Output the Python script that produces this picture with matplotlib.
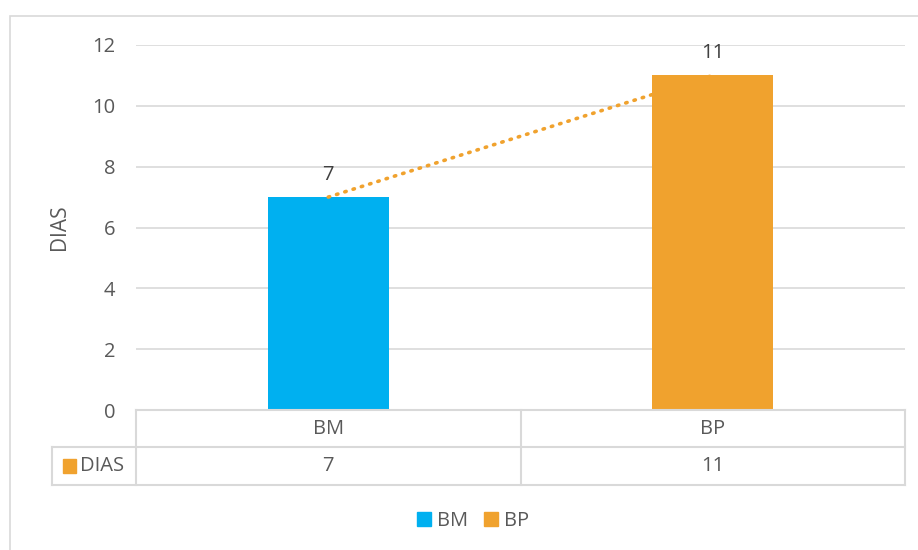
import matplotlib.pyplot as plt
from matplotlib.patches import Rectangle
from matplotlib.lines import Line2D
import matplotlib.transforms as mtransforms

# donnees du graphique
categories = ["BM", "BP"]
dias = [7, 11]
couleurs = ["#00B0F0", "#F0A22E"]
serie = "DIAS"
yticks = [0, 2, 4, 6, 8, 10, 12]

texte = "#595959"
grille = "#D9D9D9"
plt.rcParams['font.family'] = ['Open Sans', 'DejaVu Sans']

W, H = 918, 550
fig = plt.figure(figsize=(W / 100, H / 100), dpi=100)

def fx(px):
    return px / W

def fy(py):
    return 1 - py / H

# cadre du graphique
fig.patches.append(Rectangle((fx(10), fy(600)), 1.0, fy(16) - fy(600),
                             transform=fig.transFigure, fill=False,
                             edgecolor=grille, lw=1.2, clip_on=False))

x0, x1, ytop, ybot = 136, 905, 45, 410
ax = fig.add_axes([fx(x0), fy(ybot), fx(x1) - fx(x0), fy(ytop) - fy(ybot)])
ax.set_xlim(-0.5, 1.5)
ax.set_ylim(0, 12)
ax.set_yticks(yticks)
ax.set_xticks([])
ax.yaxis.grid(True, color=grille, lw=1.2)
ax.set_axisbelow(True)
for s in ax.spines.values():
    s.set_visible(False)
ax.tick_params(axis='y', length=0, pad=15, labelsize=14.5, labelcolor=texte)
ax.set_ylabel("DIAS", fontsize=15, color=texte, labelpad=16)

xs = list(range(len(categories)))
ax.bar(xs, dias, width=0.315, color=couleurs, zorder=2)
for x, v in zip(xs, dias):
    ax.annotate(str(v), (x, v), xytext=(0, 9), textcoords='offset points',
                ha='center', va='bottom', fontsize=14.5, color="#404040")

# courbe de tendance pointillee
ax.plot(xs, dias, color=couleurs[1], lw=2.6, ls=(0, (0.4, 2.0)),
        dash_capstyle='round', zorder=3)

# table de donnees sous le graphique
yh, yd, yb = 410, 447, 485
xl, xm = 52, 521
lignes = [
    ((x0, x1), (yh, yh)),
    ((xl, x1), (yd, yd)),
    ((xl, x1), (yb, yb)),
    ((x0, x0), (yh, yb)),
    ((xm, xm), (yh, yb)),
    ((x1, x1), (yh, yb)),
    ((xl, xl), (yd, yb)),
]
for (ax_, bx_), (ay_, by_) in lignes:
    fig.add_artist(Line2D([fx(ax_), fx(bx_)], [fy(ay_), fy(by_)],
                          transform=fig.transFigure, color=grille, lw=1.5))

trans = mtransforms.blended_transform_factory(ax.transData, fig.transFigure)
for x, c, v in zip(xs, categories, dias):
    fig.text(x, fy((yh + yd) / 2), c, transform=trans, ha='center',
             va='center', fontsize=14.5, color=texte)
    fig.text(x, fy((yd + yb) / 2), str(v), transform=trans, ha='center',
             va='center', fontsize=14.5, color=texte)

fig.patches.append(Rectangle((fx(63), fy(473)), fx(13), fy(459) - fy(473),
                             transform=fig.transFigure, color=couleurs[1]))
fig.text(fx(80), fy(466), serie, ha='left', va='center', fontsize=14.5, color=texte)

# legende
poignees = [Rectangle((0, 0), 1, 1, color=c) for c in couleurs]
fig.legend(poignees, categories, loc='center', bbox_to_anchor=(fx(473), fy(521)),
           ncol=2, frameon=False, fontsize=14.5, labelcolor=texte,
           handlelength=0.7, handleheight=0.7, handletextpad=0.3,
           columnspacing=0.8)

fig.savefig("out.png", dpi=100)
